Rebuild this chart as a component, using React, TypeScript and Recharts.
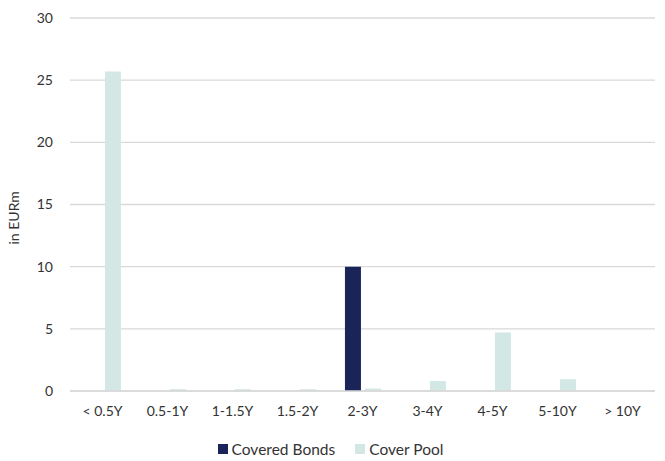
import { BarChart, Bar, XAxis, YAxis, CartesianGrid, Legend } from 'recharts'

// Laufzeitbänder
const buckets = ['< 0.5Y', '0.5-1Y', '1-1.5Y', '1.5-2Y', '2-3Y', '3-4Y', '4-5Y', '5-10Y', '> 10Y']

// in EURm
const coveredBonds = [0, 0, 0, 0, 10, 0, 0, 0, 0]
const coverPool = [25.7, 0.15, 0.15, 0.15, 0.2, 0.8, 4.7, 0.95, 0]

const yTicks = [0, 5, 10, 15, 20, 25, 30]

const series = [
  { key: 'covered', name: 'Covered Bonds', color: '#1b2459' },
  { key: 'pool', name: 'Cover Pool', color: '#d3e8e4' },
]

const data = buckets.map((b, i) => ({
  bucket: b,
  covered: coveredBonds[i],
  pool: coverPool[i],
}))

const FONT = 'Lato, "Open Sans", sans-serif'
const TEXT = '#333333'

// eigene Legende, damit die Reihenfolge stimmt
const LegendContent = () => (
  <div style={{ display: 'flex', justifyContent: 'center', gap: 20, paddingTop: 19, paddingLeft: 6, fontFamily: FONT, fontSize: 15.5, color: TEXT }}>
    {series.map((s) => (
      <div key={s.key} style={{ display: 'flex', alignItems: 'center', gap: 4 }}>
        <span style={{ width: 10, height: 10, background: s.color, display: 'inline-block' }} />
        <span>{s.name}</span>
      </div>
    ))}
  </div>
)

export default function App() {
  return (
    <div style={{ position: 'absolute', left: 0, top: 0, width: 665, height: 461, background: '#fff', fontFamily: FONT }}>
      <BarChart
        width={665}
        height={461}
        data={data}
        margin={{ top: 18, right: 10, left: 0, bottom: 0 }}
        barGap={4}
        barCategoryGap="23%"
      >
        <CartesianGrid vertical={false} stroke="#d9d9d9" strokeWidth={1.3} />
        <XAxis
          dataKey="bucket"
          axisLine={{ stroke: '#d9d9d9', strokeWidth: 1.3 }}
          tickLine={false}
          tickSize={0}
          tickMargin={15}
          height={30}
          tick={{ fill: TEXT, fontSize: 14, fontFamily: FONT }}
        />
        <YAxis
          domain={[0, 30]}
          ticks={yTicks}
          axisLine={false}
          tickLine={false}
          tickSize={0}
          tickMargin={17}
          width={70}
          tick={{ fill: TEXT, fontSize: 14, fontFamily: FONT }}
          label={{ value: 'in EURm', angle: -90, position: 'insideLeft', offset: 14, dy: 40, style: { fill: TEXT, fontSize: 14, fontFamily: FONT } }}
        />
        <Legend verticalAlign="bottom" height={40} content={<LegendContent />} />
        {series.map((s) => (
          <Bar key={s.key} dataKey={s.key} name={s.name} fill={s.color} isAnimationActive={false} />
        ))}
      </BarChart>
    </div>
  )
}
